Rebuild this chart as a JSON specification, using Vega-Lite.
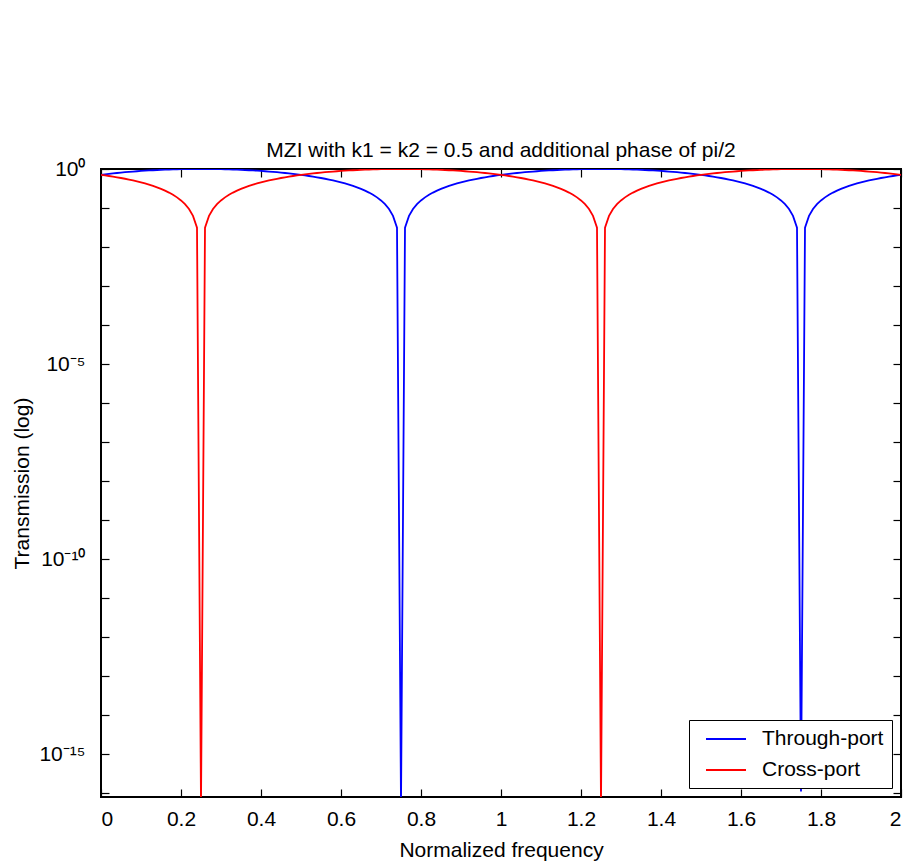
{
  "$schema": "https://vega.github.io/schema/vega-lite/v6.json",
  "width": 800,
  "height": 628,
  "autosize": {"type": "none"},
  "padding": {"left": 101, "top": 169, "right": 9, "bottom": 65},
  "background": "white",
  "config": {
    "view": {"stroke": "black", "strokeWidth": 2},
    "font": "Liberation Sans"
  },
  "title": {
    "text": "MZI with k1 = k2 = 0.5 and additional phase of pi/2",
    "fontSize": 21,
    "fontWeight": "normal",
    "font": "Liberation Sans",
    "color": "black",
    "offset": -3,
    "anchor": "middle"
  },
  "data": {
    "values": [
      {"f":0,"t":0.707107,"c":0.707107},
      {"f":0.01,"t":0.728969,"c":0.684547},
      {"f":0.02,"t":0.750111,"c":0.661312},
      {"f":0.03,"t":0.770513,"c":0.637424},
      {"f":0.04,"t":0.790155,"c":0.612907},
      {"f":0.05,"t":0.809017,"c":0.587785},
      {"f":0.06,"t":0.827081,"c":0.562083},
      {"f":0.07,"t":0.844328,"c":0.535827},
      {"f":0.08,"t":0.860742,"c":0.509041},
      {"f":0.09,"t":0.876307,"c":0.481754},
      {"f":0.1,"t":0.891007,"c":0.45399},
      {"f":0.11,"t":0.904827,"c":0.425779},
      {"f":0.12,"t":0.917755,"c":0.397148},
      {"f":0.13,"t":0.929776,"c":0.368125},
      {"f":0.14,"t":0.940881,"c":0.338738},
      {"f":0.15,"t":0.951057,"c":0.309017},
      {"f":0.16,"t":0.960294,"c":0.278991},
      {"f":0.17,"t":0.968583,"c":0.24869},
      {"f":0.18,"t":0.975917,"c":0.218143},
      {"f":0.19,"t":0.982287,"c":0.187381},
      {"f":0.2,"t":0.987688,"c":0.156434},
      {"f":0.21,"t":0.992115,"c":0.125333},
      {"f":0.22,"t":0.995562,"c":0.094108},
      {"f":0.23,"t":0.998027,"c":0.062791},
      {"f":0.24,"t":0.999507,"c":0.031411},
      {"f":0.25,"t":1,"c":5e-17},
      {"f":0.26,"t":0.999507,"c":0.031411},
      {"f":0.27,"t":0.998027,"c":0.062791},
      {"f":0.28,"t":0.995562,"c":0.094108},
      {"f":0.29,"t":0.992115,"c":0.125333},
      {"f":0.3,"t":0.987688,"c":0.156434},
      {"f":0.31,"t":0.982287,"c":0.187381},
      {"f":0.32,"t":0.975917,"c":0.218143},
      {"f":0.33,"t":0.968583,"c":0.24869},
      {"f":0.34,"t":0.960294,"c":0.278991},
      {"f":0.35,"t":0.951057,"c":0.309017},
      {"f":0.36,"t":0.940881,"c":0.338738},
      {"f":0.37,"t":0.929776,"c":0.368125},
      {"f":0.38,"t":0.917755,"c":0.397148},
      {"f":0.39,"t":0.904827,"c":0.425779},
      {"f":0.4,"t":0.891007,"c":0.45399},
      {"f":0.41,"t":0.876307,"c":0.481754},
      {"f":0.42,"t":0.860742,"c":0.509041},
      {"f":0.43,"t":0.844328,"c":0.535827},
      {"f":0.44,"t":0.827081,"c":0.562083},
      {"f":0.45,"t":0.809017,"c":0.587785},
      {"f":0.46,"t":0.790155,"c":0.612907},
      {"f":0.47,"t":0.770513,"c":0.637424},
      {"f":0.48,"t":0.750111,"c":0.661312},
      {"f":0.49,"t":0.728969,"c":0.684547},
      {"f":0.5,"t":0.707107,"c":0.707107},
      {"f":0.51,"t":0.684547,"c":0.728969},
      {"f":0.52,"t":0.661312,"c":0.750111},
      {"f":0.53,"t":0.637424,"c":0.770513},
      {"f":0.54,"t":0.612907,"c":0.790155},
      {"f":0.55,"t":0.587785,"c":0.809017},
      {"f":0.56,"t":0.562083,"c":0.827081},
      {"f":0.57,"t":0.535827,"c":0.844328},
      {"f":0.58,"t":0.509041,"c":0.860742},
      {"f":0.59,"t":0.481754,"c":0.876307},
      {"f":0.6,"t":0.45399,"c":0.891007},
      {"f":0.61,"t":0.425779,"c":0.904827},
      {"f":0.62,"t":0.397148,"c":0.917755},
      {"f":0.63,"t":0.368125,"c":0.929776},
      {"f":0.64,"t":0.338738,"c":0.940881},
      {"f":0.65,"t":0.309017,"c":0.951057},
      {"f":0.66,"t":0.278991,"c":0.960294},
      {"f":0.67,"t":0.24869,"c":0.968583},
      {"f":0.68,"t":0.218143,"c":0.975917},
      {"f":0.69,"t":0.187381,"c":0.982287},
      {"f":0.7,"t":0.156434,"c":0.987688},
      {"f":0.71,"t":0.125333,"c":0.992115},
      {"f":0.72,"t":0.094108,"c":0.995562},
      {"f":0.73,"t":0.062791,"c":0.998027},
      {"f":0.74,"t":0.031411,"c":0.999507},
      {"f":0.75,"t":5e-17,"c":1},
      {"f":0.76,"t":0.031411,"c":0.999507},
      {"f":0.77,"t":0.062791,"c":0.998027},
      {"f":0.78,"t":0.094108,"c":0.995562},
      {"f":0.79,"t":0.125333,"c":0.992115},
      {"f":0.8,"t":0.156434,"c":0.987688},
      {"f":0.81,"t":0.187381,"c":0.982287},
      {"f":0.82,"t":0.218143,"c":0.975917},
      {"f":0.83,"t":0.24869,"c":0.968583},
      {"f":0.84,"t":0.278991,"c":0.960294},
      {"f":0.85,"t":0.309017,"c":0.951057},
      {"f":0.86,"t":0.338738,"c":0.940881},
      {"f":0.87,"t":0.368125,"c":0.929776},
      {"f":0.88,"t":0.397148,"c":0.917755},
      {"f":0.89,"t":0.425779,"c":0.904827},
      {"f":0.9,"t":0.45399,"c":0.891007},
      {"f":0.91,"t":0.481754,"c":0.876307},
      {"f":0.92,"t":0.509041,"c":0.860742},
      {"f":0.93,"t":0.535827,"c":0.844328},
      {"f":0.94,"t":0.562083,"c":0.827081},
      {"f":0.95,"t":0.587785,"c":0.809017},
      {"f":0.96,"t":0.612907,"c":0.790155},
      {"f":0.97,"t":0.637424,"c":0.770513},
      {"f":0.98,"t":0.661312,"c":0.750111},
      {"f":0.99,"t":0.684547,"c":0.728969},
      {"f":1,"t":0.707107,"c":0.707107},
      {"f":1.01,"t":0.728969,"c":0.684547},
      {"f":1.02,"t":0.750111,"c":0.661312},
      {"f":1.03,"t":0.770513,"c":0.637424},
      {"f":1.04,"t":0.790155,"c":0.612907},
      {"f":1.05,"t":0.809017,"c":0.587785},
      {"f":1.06,"t":0.827081,"c":0.562083},
      {"f":1.07,"t":0.844328,"c":0.535827},
      {"f":1.08,"t":0.860742,"c":0.509041},
      {"f":1.09,"t":0.876307,"c":0.481754},
      {"f":1.1,"t":0.891007,"c":0.45399},
      {"f":1.11,"t":0.904827,"c":0.425779},
      {"f":1.12,"t":0.917755,"c":0.397148},
      {"f":1.13,"t":0.929776,"c":0.368125},
      {"f":1.14,"t":0.940881,"c":0.338738},
      {"f":1.15,"t":0.951057,"c":0.309017},
      {"f":1.16,"t":0.960294,"c":0.278991},
      {"f":1.17,"t":0.968583,"c":0.24869},
      {"f":1.18,"t":0.975917,"c":0.218143},
      {"f":1.19,"t":0.982287,"c":0.187381},
      {"f":1.2,"t":0.987688,"c":0.156434},
      {"f":1.21,"t":0.992115,"c":0.125333},
      {"f":1.22,"t":0.995562,"c":0.094108},
      {"f":1.23,"t":0.998027,"c":0.062791},
      {"f":1.24,"t":0.999507,"c":0.031411},
      {"f":1.25,"t":1,"c":5e-17},
      {"f":1.26,"t":0.999507,"c":0.031411},
      {"f":1.27,"t":0.998027,"c":0.062791},
      {"f":1.28,"t":0.995562,"c":0.094108},
      {"f":1.29,"t":0.992115,"c":0.125333},
      {"f":1.3,"t":0.987688,"c":0.156434},
      {"f":1.31,"t":0.982287,"c":0.187381},
      {"f":1.32,"t":0.975917,"c":0.218143},
      {"f":1.33,"t":0.968583,"c":0.24869},
      {"f":1.34,"t":0.960294,"c":0.278991},
      {"f":1.35,"t":0.951057,"c":0.309017},
      {"f":1.36,"t":0.940881,"c":0.338738},
      {"f":1.37,"t":0.929776,"c":0.368125},
      {"f":1.38,"t":0.917755,"c":0.397148},
      {"f":1.39,"t":0.904827,"c":0.425779},
      {"f":1.4,"t":0.891007,"c":0.45399},
      {"f":1.41,"t":0.876307,"c":0.481754},
      {"f":1.42,"t":0.860742,"c":0.509041},
      {"f":1.43,"t":0.844328,"c":0.535827},
      {"f":1.44,"t":0.827081,"c":0.562083},
      {"f":1.45,"t":0.809017,"c":0.587785},
      {"f":1.46,"t":0.790155,"c":0.612907},
      {"f":1.47,"t":0.770513,"c":0.637424},
      {"f":1.48,"t":0.750111,"c":0.661312},
      {"f":1.49,"t":0.728969,"c":0.684547},
      {"f":1.5,"t":0.707107,"c":0.707107},
      {"f":1.51,"t":0.684547,"c":0.728969},
      {"f":1.52,"t":0.661312,"c":0.750111},
      {"f":1.53,"t":0.637424,"c":0.770513},
      {"f":1.54,"t":0.612907,"c":0.790155},
      {"f":1.55,"t":0.587785,"c":0.809017},
      {"f":1.56,"t":0.562083,"c":0.827081},
      {"f":1.57,"t":0.535827,"c":0.844328},
      {"f":1.58,"t":0.509041,"c":0.860742},
      {"f":1.59,"t":0.481754,"c":0.876307},
      {"f":1.6,"t":0.45399,"c":0.891007},
      {"f":1.61,"t":0.425779,"c":0.904827},
      {"f":1.62,"t":0.397148,"c":0.917755},
      {"f":1.63,"t":0.368125,"c":0.929776},
      {"f":1.64,"t":0.338738,"c":0.940881},
      {"f":1.65,"t":0.309017,"c":0.951057},
      {"f":1.66,"t":0.278991,"c":0.960294},
      {"f":1.67,"t":0.24869,"c":0.968583},
      {"f":1.68,"t":0.218143,"c":0.975917},
      {"f":1.69,"t":0.187381,"c":0.982287},
      {"f":1.7,"t":0.156434,"c":0.987688},
      {"f":1.71,"t":0.125333,"c":0.992115},
      {"f":1.72,"t":0.094108,"c":0.995562},
      {"f":1.73,"t":0.062791,"c":0.998027},
      {"f":1.74,"t":0.031411,"c":0.999507},
      {"f":1.75,"t":1.1e-16,"c":1},
      {"f":1.76,"t":0.031411,"c":0.999507},
      {"f":1.77,"t":0.062791,"c":0.998027},
      {"f":1.78,"t":0.094108,"c":0.995562},
      {"f":1.79,"t":0.125333,"c":0.992115},
      {"f":1.8,"t":0.156434,"c":0.987688},
      {"f":1.81,"t":0.187381,"c":0.982287},
      {"f":1.82,"t":0.218143,"c":0.975917},
      {"f":1.83,"t":0.24869,"c":0.968583},
      {"f":1.84,"t":0.278991,"c":0.960294},
      {"f":1.85,"t":0.309017,"c":0.951057},
      {"f":1.86,"t":0.338738,"c":0.940881},
      {"f":1.87,"t":0.368125,"c":0.929776},
      {"f":1.88,"t":0.397148,"c":0.917755},
      {"f":1.89,"t":0.425779,"c":0.904827},
      {"f":1.9,"t":0.45399,"c":0.891007},
      {"f":1.91,"t":0.481754,"c":0.876307},
      {"f":1.92,"t":0.509041,"c":0.860742},
      {"f":1.93,"t":0.535827,"c":0.844328},
      {"f":1.94,"t":0.562083,"c":0.827081},
      {"f":1.95,"t":0.587785,"c":0.809017},
      {"f":1.96,"t":0.612907,"c":0.790155},
      {"f":1.97,"t":0.637424,"c":0.770513},
      {"f":1.98,"t":0.661312,"c":0.750111},
      {"f":1.99,"t":0.684547,"c":0.728969},
      {"f":2,"t":0.707107,"c":0.707107}
    ]
  },
  "transform": [{"fold": ["t", "c"], "as": ["port", "T"]}],
  "layer": [
    {
      "mark": {"type": "line", "strokeWidth": 1.8, "clip": true},
      "encoding": {
        "x": {
          "field": "f", "type": "quantitative",
          "scale": {"domain": [0, 2], "nice": false, "zero": false},
          "axis": {
            "orient": "bottom",
            "values": [0, 0.2, 0.4, 0.6, 0.8, 1, 1.2, 1.4, 1.6, 1.8, 2],
            "format": ".1~f",
            "domain": false, "grid": false,
            "tickSize": -8, "tickColor": "black", "tickWidth": 1.2,
            "labelFontSize": 21, "labelColor": "black", "labelPadding": 19,
            "labelFont": "Liberation Sans",
            "title": "Normalized frequency",
            "titleFontSize": 21, "titleFontWeight": "normal", "titleColor": "black",
            "titleFont": "Liberation Sans",
            "titleY": 53, "titleBaseline": "middle"
          }
        },
        "y": {
          "field": "T", "type": "quantitative",
          "scale": {"type": "log", "domain": [7.94e-17, 1], "nice": false},
          "axis": {
            "orient": "left",
            "values": [1, 1e-1, 1e-2, 1e-3, 1e-4, 1e-5, 1e-6, 1e-7, 1e-8, 1e-9, 1e-10, 1e-11, 1e-12, 1e-13, 1e-14, 1e-15, 1e-16],
            "labelExpr": "round(log(datum.value)/LN10) == 0 ? '10⁰' : round(log(datum.value)/LN10) == -5 ? '10⁻⁵' : round(log(datum.value)/LN10) == -10 ? '10⁻¹⁰' : round(log(datum.value)/LN10) == -15 ? '10⁻¹⁵' : ''",
            "domain": false, "grid": false,
            "tickSize": -8, "tickColor": "black", "tickWidth": 1.2,
            "labelFontSize": 21, "labelColor": "black", "labelPadding": 24,
            "labelFont": "Liberation Sans",
            "title": "Transmission (log)",
            "titleFontSize": 21, "titleFontWeight": "normal", "titleColor": "black",
            "titleFont": "Liberation Sans",
            "titleX": -79, "titleY": 314, "titleBaseline": "middle", "titleAngle": -90
          }
        },
        "color": {
          "field": "port", "type": "nominal",
          "scale": {"domain": ["t", "c"], "range": ["#0000ff", "#ff0000"]},
          "legend": {
            "orient": "none", "legendX": 588, "legendY": 551,
            "title": null, "direction": "vertical",
            "fillColor": "white", "strokeColor": "black",
            "padding": 8, "rowPadding": 10,
            "symbolType": "M-2,0H2", "symbolSize": 400, "symbolStrokeWidth": 1.8,
            "symbolOffset": 18, "labelOffset": 25,
            "labelFontSize": 21, "labelColor": "black", "labelFont": "Liberation Sans",
            "labelExpr": "datum.label == 't' ? 'Through-port' : 'Cross-port'"
          }
        }
      }
    },
    {
      "mark": {"type": "line", "opacity": 0},
      "encoding": {
        "detail": {"field": "port"},
        "x": {
          "field": "f", "type": "quantitative",
          "axis": {
            "orient": "top",
            "values": [0, 0.2, 0.4, 0.6, 0.8, 1, 1.2, 1.4, 1.6, 1.8, 2],
            "labels": false, "domain": false, "grid": false,
            "tickSize": -8, "tickColor": "black", "tickWidth": 1.2,
            "title": null
          }
        },
        "y": {
          "field": "T", "type": "quantitative",
          "axis": {
            "orient": "right",
            "values": [1, 1e-1, 1e-2, 1e-3, 1e-4, 1e-5, 1e-6, 1e-7, 1e-8, 1e-9, 1e-10, 1e-11, 1e-12, 1e-13, 1e-14, 1e-15, 1e-16],
            "labels": false, "domain": false, "grid": false,
            "tickSize": -8, "tickColor": "black", "tickWidth": 1.2,
            "title": null
          }
        }
      }
    }
  ],
  "resolve": {"axis": {"x": "independent", "y": "independent"}}
}
